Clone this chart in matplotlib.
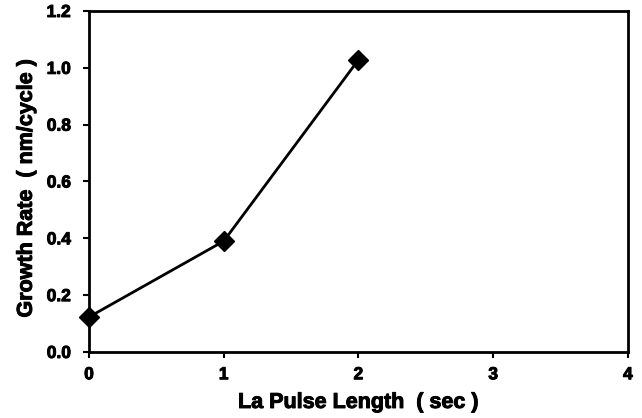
import matplotlib
matplotlib.use('Agg')
import matplotlib.pyplot as plt
import matplotlib.patheffects as pe

pulse_length = [0, 1, 2]
growth_rate = [0.123, 0.39, 1.028]

x_ticks = [0, 1, 2, 3, 4]
y_ticks = [0.0, 0.2, 0.4, 0.6, 0.8, 1.0, 1.2]
y_tick_labels = ['0.0', '0.2', '0.4', '0.6', '0.8', '1.0', '1.2']

plt.rcParams['font.family'] = 'Liberation Sans'
plt.rcParams['font.weight'] = 'bold'

# slightly heavier strokes on the text
heavy = [pe.withStroke(linewidth=0.7, foreground='black')]

fig = plt.figure(figsize=(6.42, 4.18), dpi=100)
ax = fig.add_axes([0.1386, 0.158, 0.8394, 0.8157])

ax.plot(pulse_length, growth_rate, color='black', lw=2, marker='D',
        markersize=10, clip_on=False, zorder=3)

ax.set_xlim(0, 4)
ax.set_ylim(0, 1.2)
ax.set_xticks(x_ticks)
ax.set_yticks(y_ticks)
ax.set_yticklabels(y_tick_labels)

for s in ax.spines.values():
    s.set_linewidth(2)
ax.tick_params(direction='out', length=4, width=1.5, labelsize=12.5)
ax.tick_params(axis='y', pad=9)
ax.tick_params(axis='x', pad=7)
for lab in ax.get_xticklabels() + ax.get_yticklabels():
    lab.set_fontweight('bold')
    lab.set_path_effects(heavy)

ax.set_xlabel('La Pulse Length  ( sec )', fontsize=15.5, fontweight='bold',
              labelpad=7, path_effects=heavy)
ax.set_ylabel('Growth Rate  ( nm/cycle )', fontsize=15.5, fontweight='bold',
              labelpad=7, path_effects=heavy)
ax.yaxis.label.set_y(0.48)

fig.savefig('out.png', dpi=100)
